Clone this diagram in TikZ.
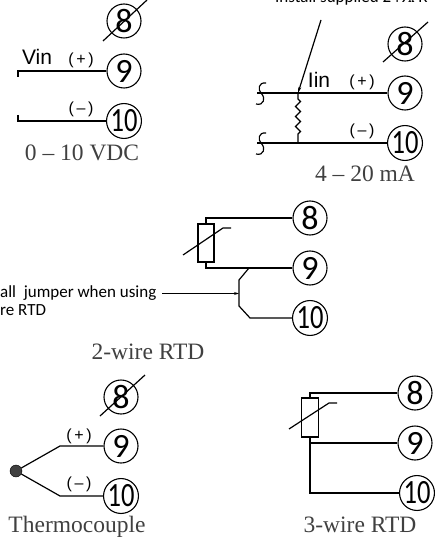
\documentclass[tikz,border=0pt]{standalone}
\usepackage{fontspec}
\setmainfont{Liberation Serif}
\newfontfamily\wirefont{Liberation Sans}
\newfontfamily\notefont{Carlito}
\newfontfamily\tenfont[FakeStretch=0.78]{Carlito}
\usetikzlibrary{decorations.pathmorphing,arrows.meta}
\tikzset{
  wire/.style={line width=1.2pt,black},
  term/.style={circle,draw,line width=1.1pt,minimum size=34pt,inner sep=0pt,font=\notefont\fontsize{34}{34}\selectfont},
  termten/.style={term,font=\tenfont\fontsize{34}{34}\selectfont},
  tag/.style={inner sep=0pt,font=\wirefont\fontsize{16}{16}\selectfont},
  word/.style={inner sep=0pt,font=\wirefont\fontsize{21}{21}\selectfont},
  caption/.style={inner sep=0pt,text=black!75,font=\fontsize{23.5}{23.5}\selectfont},
  note/.style={inner sep=0pt,anchor=base west,font=\notefont\fontsize{17}{17}\selectfont},
  rtd/.style={rectangle,draw,line width=1.1pt,minimum width=16pt,minimum height=38pt,inner sep=0pt}
}
\begin{document}
\begin{tikzpicture}[x=1pt,y=-1pt]
  \useasboundingbox (0,0) rectangle (435,537);
  \clip (0,0) rectangle (435,537);

  % 0-10 VDC
  \node[term] (va8) at (124,21) {8};
  \node[term] (va9) at (124,71) {9};
  \node[termten] (va10) at (124,121) {10};
  \coordinate (vaa) at (103,41);
  \coordinate (vab) at (147,0);
  \coordinate (vap) at (18,71);
  \coordinate (vapt) at (18,77);
  \coordinate (vam) at (18,121);
  \coordinate (vamt) at (18,115);
  \draw[wire] (vaa) -- (vab);
  \draw[wire] (vapt) -- (vap) -- (va9);
  \draw[wire] (vamt) -- (vam) -- (va10);
  \node[word] (vain) at (37,57) {Vin};
  \node[tag] (vaplus) at (81,60) {(\,+\,)};
  \node[tag] (vaminus) at (81,109) {(\,–\,)};
  \node[caption] (vacap) at (82,153) {0 -- 10 VDC};

  % 4-20 mA
  \node[term] (ma8) at (405,44) {8};
  \node[term] (ma9) at (405,93) {9};
  \node[termten] (ma10) at (405,143) {10};
  \coordinate (map) at (257,93);
  \coordinate (mam) at (257,143);
  \coordinate (mat) at (298,93);
  \coordinate (mab) at (298,143);
  \coordinate (maa) at (383,62);
  \coordinate (mac) at (428,22);
  \coordinate (mas) at (321,20);
  \draw[wire] (maa) -- (mac);
  \draw[wire] (map) -- (ma9);
  \draw[wire] (mam) -- (ma10);
  \draw[wire,-{Stealth[length=6pt,width=3pt]}] (mas) -- (mat);
  \draw[wire,decorate,decoration={zigzag,amplitude=2.5pt,segment length=10pt,pre length=6pt,post length=6pt}] (mat) -- (mab);
  \draw[wire] (266,83) .. controls (258,82) and (258,90) .. (261,93) .. controls (266,98) and (264,106) .. (256,104);
  \draw[wire] (266,133) .. controls (258,132) and (258,140) .. (261,143) .. controls (266,148) and (264,156) .. (256,154);
  \node[word] (main) at (319,80) {Iin};
  \node[tag] (maplus) at (362,82) {(\,+\,)};
  \node[tag] (maminus) at (362,131) {(\,–\,)};
  \node[caption] (macap) at (365,174) {4 -- 20 mA};
  \node[note] (manote) at (275,3) {Install supplied 249{\fontsize{9}{9}\selectfont\bfseries Ω} R};

  % 2-wire RTD
  \node[term] (tw8) at (310,218) {8};
  \node[term] (tw9) at (310,268) {9};
  \node[termten] (tw10) at (310,318) {10};
  \node[rtd] (twr) at (206,243) {};
  \coordinate (twa) at (206,218);
  \coordinate (twb) at (206,268);
  \coordinate (twc) at (183,255);
  \coordinate (twd) at (223,228);
  \coordinate (twe) at (231,228);
  \coordinate (twj) at (249,268);
  \coordinate (twk) at (239,280);
  \coordinate (twl) at (239,306);
  \coordinate (twm) at (250,318);
  \coordinate (twn) at (162,293.5);
  \coordinate (two) at (239,293.5);
  \draw[wire] (twr.north) -- (twa) -- (tw8);
  \draw[wire] (twr.south) -- (twb) -- (tw9);
  \draw[wire] (twc) -- (twd) -- (twe);
  \draw[wire] (twj) -- (twk) -- (twl) -- (twm) -- (tw10);
  \draw[wire,line width=1pt,-{Stealth[length=5pt,width=3pt]}] (twn) -- (two);
  \node[note] (twnote) at (0,297) {all\ \ jumper when using};
  \node[note] (twnoteb) at (0,315) {re RTD};
  \node[caption] (twcap) at (148,352) {2-wire RTD};

  % Thermocouple
  \node[term] (tc8) at (121,397) {8};
  \node[term] (tc9) at (121,446) {9};
  \node[termten] (tc10) at (121,496) {10};
  \node[circle,draw,fill=black!75,minimum size=12pt,inner sep=0pt] (tcdot) at (16,471) {};
  \coordinate (tca) at (100,416);
  \coordinate (tcb) at (145,375);
  \coordinate (tcp) at (60,446);
  \coordinate (tcm) at (60,496);
  \draw[wire] (tca) -- (tcb);
  \draw[wire] (tcdot) -- (tcp) -- (tc9);
  \draw[wire] (tcdot) -- (tcm) -- (tc10);
  \node[tag] (tcplus) at (79,436) {(\,+\,)};
  \node[tag] (tcminus) at (79,484) {(\,–\,)};
  \node[caption] (tccap) at (77,527) {Thermocouple};

  % 3-wire RTD
  \node[term] (th8) at (415,393) {8};
  \node[term] (th9) at (415,443) {9};
  \node[termten] (th10) at (417,493) {10};
  \node[rtd,minimum width=17pt,minimum height=39pt] (thr) at (310,417.5) {};
  \coordinate (tha) at (310,393);
  \coordinate (thb) at (310,443);
  \coordinate (thc) at (310,493);
  \coordinate (thd) at (289,429);
  \coordinate (the) at (329,403);
  \coordinate (thf) at (337,403);
  \draw[wire] (thr.north) -- (tha) -- (th8);
  \draw[wire] (thr.south) -- (thb) -- (th9);
  \draw[wire] (thb) -- (thc) -- (th10);
  \draw[wire] (thd) -- (the) -- (thf);
  \node[caption] (thcap) at (360,525) {3-wire RTD};
\end{tikzpicture}
\end{document}
